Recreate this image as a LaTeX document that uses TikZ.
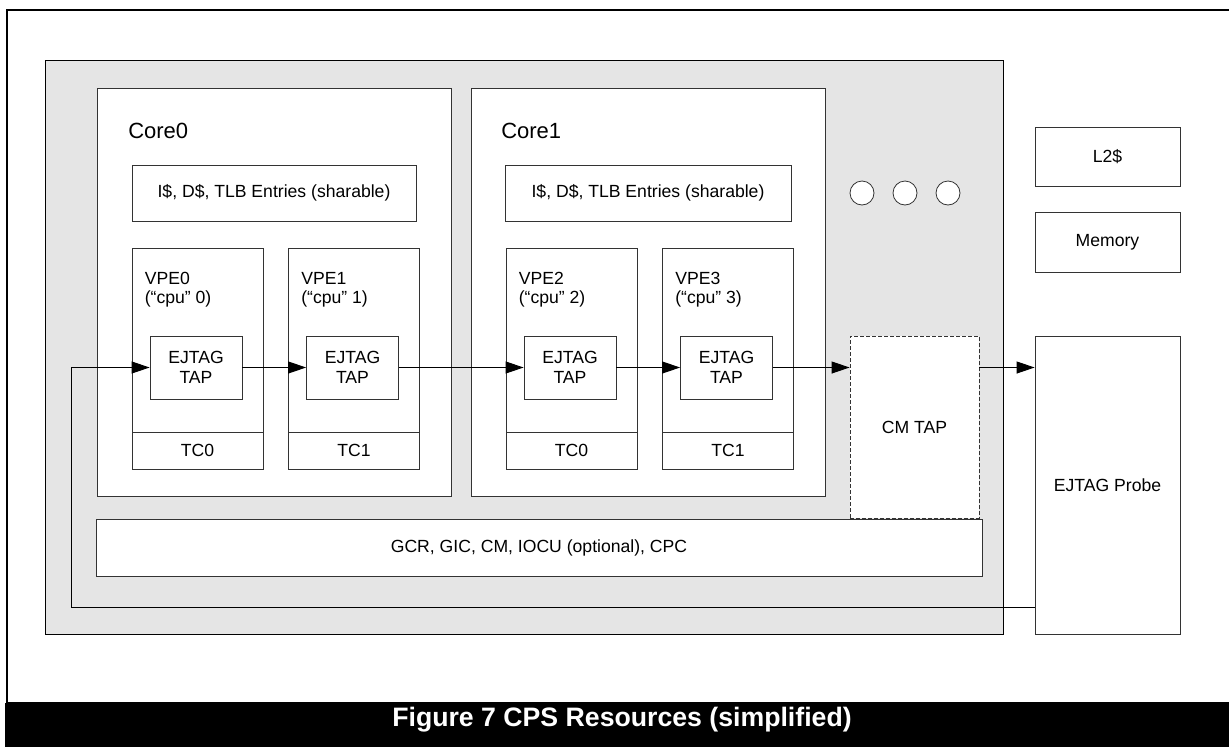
\documentclass[tikz,border=0pt]{standalone}
\usepackage{fontspec}
\setmainfont{Liberation Sans}
\usetikzlibrary{arrows.meta,calc,positioning}

\begin{document}
\begin{tikzpicture}[x=0.75pt,y=0.75pt,yscale=-1,xscale=1,
  box/.style={draw=black!80, fill=white, line width=0.6pt, inner sep=0pt,
    font=\fontsize{13.2}{15}\selectfont},
  txt/.style={inner sep=0pt, font=\fontsize{13.2}{14.6}\selectfont},
  link/.style={draw=black, line width=0.75pt, -{Triangle[length=13.5pt,width=9pt]}}]
%set diagram size 1229 x 747
\useasboundingbox (0,0) rectangle (1229,747);

%Shape: Frame
\draw [line width=1.6pt] (7,10) rectangle (1232,703);
%Shape: Caption bar
\fill [black] (5,703) rectangle (1229,747);
\node [anchor=base, text=white, inner sep=0pt, font=\fontsize{20}{22}\selectfont\bfseries] (caption) at (622,726) {Figure 7 CPS Resources (simplified)};

%Shape: CPS area
\node [box, draw=black, fill=black!10, minimum width=958*0.75pt, minimum height=574*0.75pt] (cps) at (524,347) {};

%Shape: Cores
\node [box, minimum width=354*0.75pt, minimum height=408*0.75pt] (core0) at (274,292) {};
\node [box, minimum width=354*0.75pt, minimum height=408*0.75pt] (core1) at (648,292) {};
\node [txt, anchor=base west, font=\fontsize{16.5}{18}\selectfont] (core0lbl) at (128,138) {Core0};
\node [txt, anchor=base west, font=\fontsize{16.5}{18}\selectfont] (core1lbl) at (501,138) {Core1};

%Shape: Caches
\node [box, minimum width=284*0.75pt, minimum height=56*0.75pt] (cache0) at (274,193) {I\$, D\$, TLB Entries (sharable)};
\node [box, minimum width=286*0.75pt, minimum height=56*0.75pt] (cache1) at (648,193) {I\$, D\$, TLB Entries (sharable)};

%Shape: VPEs with TCs and TAPs
\foreach \i/\cx/\tc in {0/197.5/0, 1/354/1, 2/571.5/0, 3/728/1}{
  \node [box, minimum width=131*0.75pt, minimum height=221*0.75pt] (vpe\i) at (\cx,358.5) {};
  \node [box, minimum width=131*0.75pt, minimum height=37*0.75pt, anchor=south] (tc\i) at (vpe\i.south) {TC\tc};
  \node [txt, anchor=base west, align=left] (vpelbl\i) at ($(vpe\i.north west)+(13,56)$) {VPE\i\\(“cpu” \i)};
  \node [box, minimum width=92*0.75pt, minimum height=63*0.75pt, align=center] (tap\i) at (\cx-1.5,367.5) {EJTAG\\TAP};
}

%Shape: dots
\foreach \n/\cx in {1/862, 2/905, 3/948}
  \node [circle, draw=black!80, fill=white, line width=0.6pt, minimum size=24*0.75pt, inner sep=0pt] (dot\n) at (\cx,193) {};

%Shape: GCR block
\node [box, minimum width=886*0.75pt, minimum height=57*0.75pt] (gcr) at (539,547.5) {GCR, GIC, CM, IOCU (optional), CPC};

%Shape: CM TAP
\node [box, dash pattern=on 3pt off 1.5pt, minimum width=129*0.75pt, minimum height=182*0.75pt] (cmtap) at (914.5,427) {CM TAP};

%Shape: outside blocks
\node [box, minimum width=145*0.75pt, minimum height=59*0.75pt] (l2) at (1107.5,156.5) {L2\$};
\node [box, minimum width=145*0.75pt, minimum height=60*0.75pt] (mem) at (1107.5,242) {Memory};
\node [box, minimum width=145*0.75pt, minimum height=298*0.75pt] (probe) at (1107.5,485) {EJTAG Probe};

%Straight Lines: scan chain
\coordinate (loop) at (71,607);
\draw [link] (tap0) -- (tap1);
\draw [link] (tap1) -- (tap2);
\draw [link] (tap2) -- (tap3);
\draw [link] (tap3) -- (tap3 -| cmtap.west);
\draw [link] (tap3 -| cmtap.east) -- (tap3 -| probe.west);
\draw [link] (probe.west |- loop) -- (loop) |- (tap0.west);

\end{tikzpicture}
\end{document}
